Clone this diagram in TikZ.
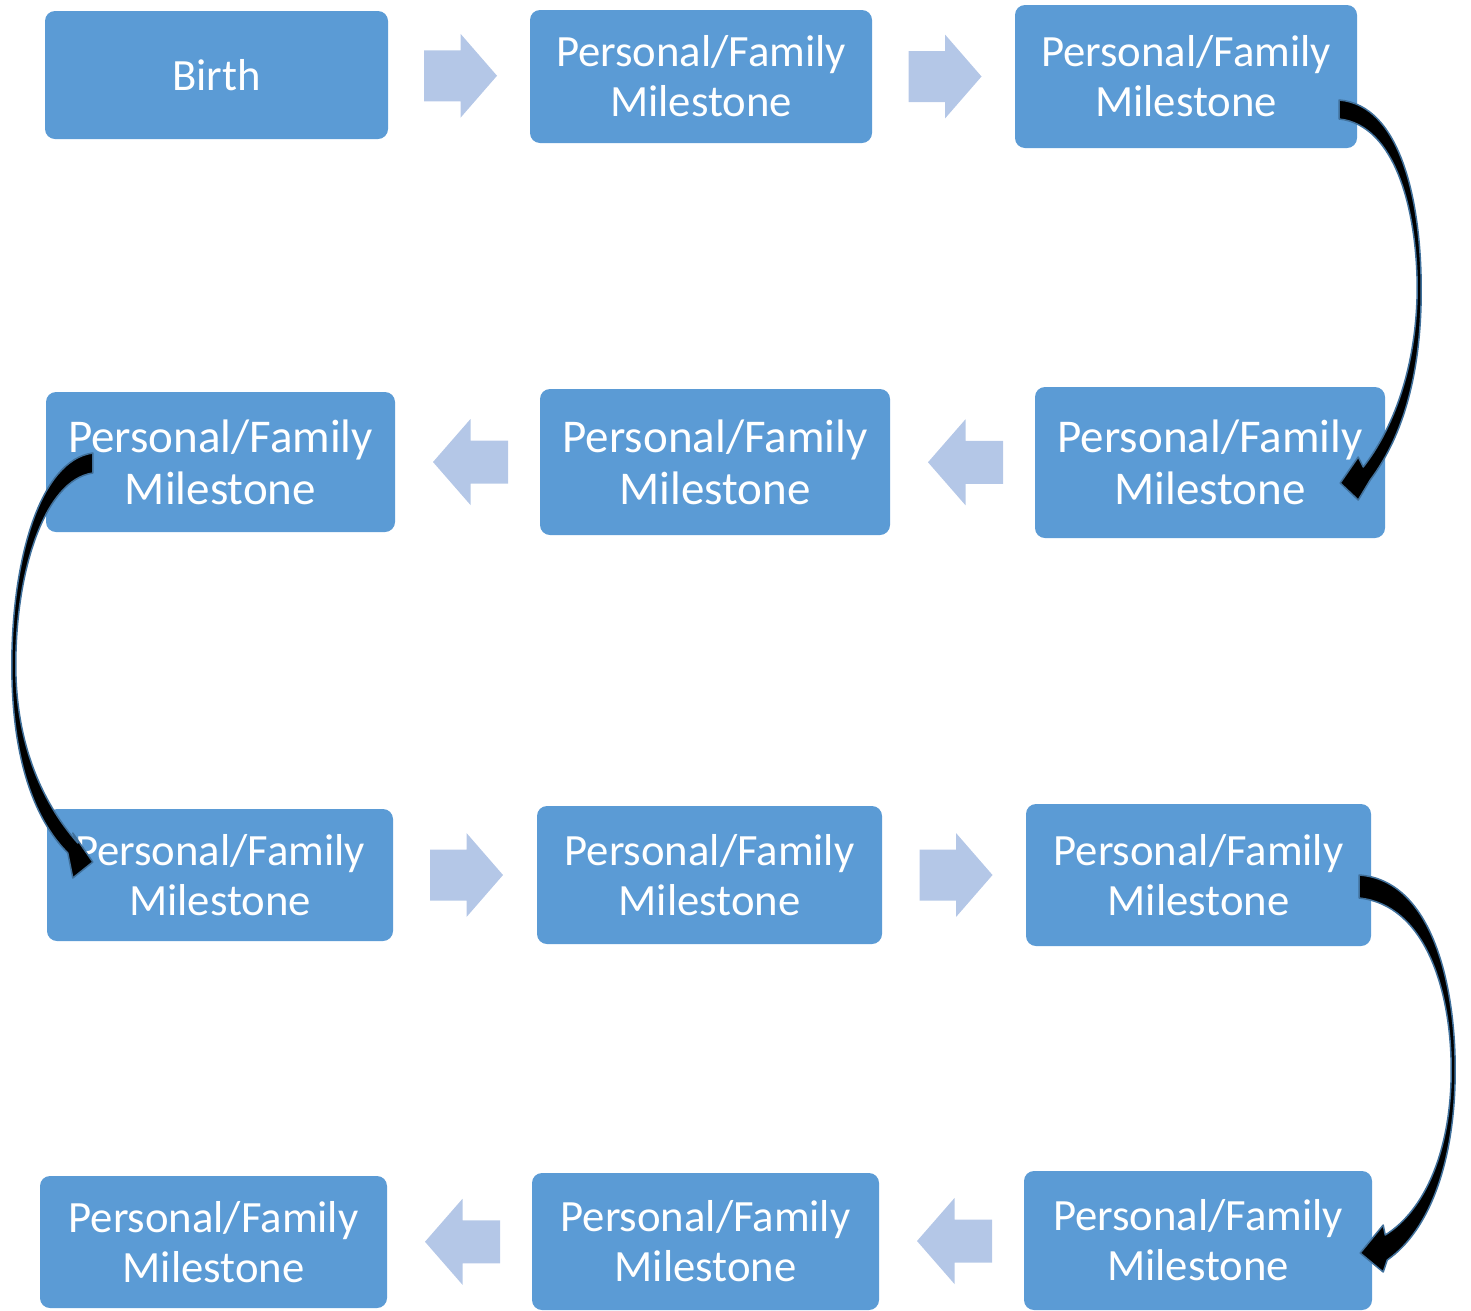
\documentclass[tikz,border=0pt]{standalone}
\usepackage{fontspec}
\setmainfont{Carlito}
\usetikzlibrary{calc}
\definecolor{boxblue}{HTML}{5B9BD5}
\definecolor{lightarrow}{HTML}{B4C7E7}
\definecolor{edgeblue}{HTML}{41719C}
\tikzset{
  milebox/.style={rectangle, rounded corners=10pt, fill=boxblue, draw=none,
    inner sep=0pt, align=center, text=white,
    font=\fontsize{44.7}{50}\selectfont},
  bigbox/.style={milebox, font=\fontsize{47}{52}\selectfont},
  blockfill/.style={fill=lightarrow, draw=none},
  curvearrow/.style={fill=black, draw=edgeblue, line width=1.5pt, line join=round},
  pics/rightblock/.style={code={
    \fill[blockfill] (-36.5,-25.5) -- (0,-25.5) -- (0,-42) -- (36.5,0) -- (0,42) -- (0,25.5) -- (-36.5,25.5) -- cycle;}},
  pics/leftblock/.style={code={
    \fill[blockfill] (37.5,-21.5) -- (0,-21.5) -- (0,-43) -- (-37.5,0) -- (0,43) -- (0,21.5) -- (37.5,21.5) -- cycle;}}
}
\begin{document}
\begin{tikzpicture}[x=1pt,y=-1pt]
\useasboundingbox (0,0) rectangle (1471,1310);
% row 1
\node[milebox, minimum width=343pt, minimum height=128pt] (b1) at (216.5,75) {Birth};
\node[milebox, minimum width=342pt, minimum height=133pt] (b2) at (701,76.5) {Personal/Family\\Milestone};
\node[milebox, minimum width=342pt, minimum height=143pt] (b3) at (1186,76.5) {Personal/Family\\Milestone};
% row 2
\node[bigbox, minimum width=349pt, minimum height=140pt] (b4) at (220.5,462) {Personal/Family\\Milestone};
\node[bigbox, minimum width=350pt, minimum height=146pt] (b5) at (715,462) {Personal/Family\\Milestone};
\node[bigbox, minimum width=350pt, minimum height=151pt] (b6) at (1210,462.5) {Personal/Family\\Milestone};
% row 3
\node[milebox, minimum width=346pt, minimum height=132pt] (b7) at (220,875) {Personal/Family\\Milestone};
\node[milebox, minimum width=345pt, minimum height=138pt] (b8) at (709.5,875) {Personal/Family\\Milestone};
\node[milebox, minimum width=345pt, minimum height=142pt] (b9) at (1198.5,875) {Personal/Family\\Milestone};
% row 4
\node[milebox, minimum width=347pt, minimum height=132pt] (b10) at (213.5,1242) {Personal/Family\\Milestone};
\node[milebox, minimum width=347pt, minimum height=137pt] (b11) at (705.5,1241.5) {Personal/Family\\Milestone};
\node[milebox, minimum width=348pt, minimum height=139pt] (b12) at (1198,1240.5) {Personal/Family\\Milestone};

% block arrows between boxes
\coordinate (a12) at ($(b1.east)!0.5!(b2.west)+(1.5,0)$);
\coordinate (a23) at ($(b2.east)!0.5!(b3.west)+(1.5,0)$);
\coordinate (a54) at ($(b4.east)!0.5!(b5.west)+(3,0)$);
\coordinate (a65) at ($(b5.east)!0.5!(b6.west)+(3,0)$);
\coordinate (a78) at ($(b7.east)!0.5!(b8.west)+(1.5,0)$);
\coordinate (a89) at ($(b8.east)!0.5!(b9.west)+(2,0)$);
\coordinate (a1110) at ($(b10.east)!0.5!(b11.west)+(3,0)$);
\coordinate (a1211) at ($(b11.east)!0.5!(b12.west)+(3,0)$);
\pic at (a12) {rightblock};
\pic at (a23) {rightblock};
\pic at (a54) {leftblock};
\pic at (a65) {leftblock};
\pic at (a78) {rightblock};
\pic at (a89) {rightblock};
\pic at (a1110) {leftblock};
\pic at (a1211) {leftblock};

% curved arrows
\begin{scope}[shift={(b3.east)}]
\filldraw[curvearrow] (-18,23.5) .. controls (43,28.5) and (64,123.5) .. (64,213.5)
  .. controls (64,303.5) and (43,363.5) .. (13,403.5)
  -- (1,423.5) -- (-17,406.5) -- (1,380.5) -- (6,390.5)
  .. controls (35,353.5) and (59,293.5) .. (60,213.5)
  .. controls (60,133.5) and (38,48.5) .. (-18,42.5) -- cycle;
\end{scope}
\begin{scope}[shift={(b4.west)}]
\filldraw[curvearrow] (47,-9) .. controls (-6,-2) and (-34,98) .. (-34,203)
  .. controls (-34,298) and (-11,358) .. (22,391)
  -- (27,416) -- (47,400) -- (27,371) -- (32,381)
  .. controls (-6,338) and (-30,278) .. (-30,203)
  .. controls (-30,108) and (-1,18) .. (47,11) -- cycle;
\end{scope}
\begin{scope}[shift={(b9.east)}]
\filldraw[curvearrow] (-12,0) .. controls (59,5) and (84,105) .. (84,195)
  .. controls (84,285) and (59,355) .. (16,385)
  -- (12,397) -- (-11,378) -- (12,350) -- (14,360)
  .. controls (54,335) and (80,275) .. (80,195)
  .. controls (80,115) and (54,30) .. (-12,23) -- cycle;
\end{scope}
\end{tikzpicture}
\end{document}
